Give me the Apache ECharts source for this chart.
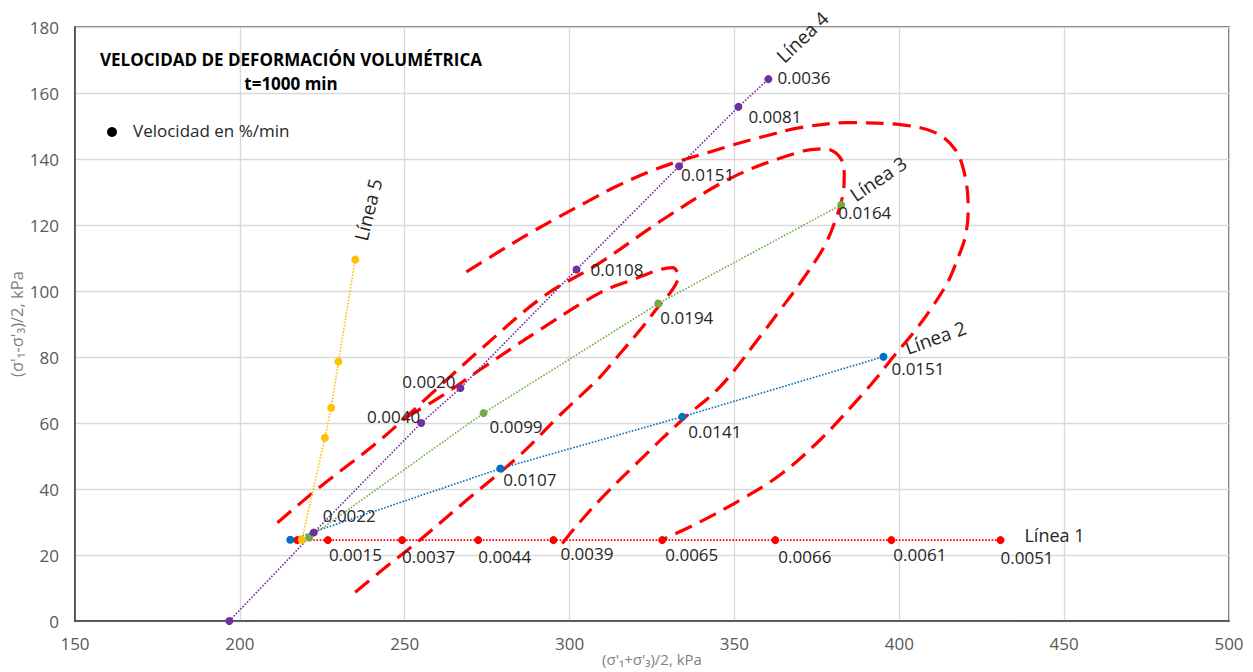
<!DOCTYPE html>
<html><head><meta charset="utf-8">
<script src="https://cdn.jsdelivr.net/npm/echarts@6/dist/echarts.min.js"></script>
<style>html,body{margin:0;padding:0;background:#fff;overflow:hidden}#c{width:1253px;height:672px}</style>
</head><body><div id="c"></div>
<script>
// ---- data ----
const l1X = [217.4, 226.7, 249.2, 272.3, 295.1, 328.1, 362.4, 397.6, 430.7];
const l1Y = [24.5, 24.5, 24.5, 24.5, 24.5, 24.5, 24.5, 24.5, 24.5];
const l1Lbl = ['', '0.0015', '0.0037', '0.0044', '0.0039', '0.0065', '0.0066', '0.0061', '0.0051'];

const l2X = [215.3, 279.0, 334.2, 395.2];
const l2Y = [24.6, 46.2, 61.9, 80.1];
const l2Lbl = ['', '0.0107', '0.0141', '0.0151'];

const l3X = [221.0, 273.9, 326.9, 382.4];
const l3Y = [25.3, 63.0, 96.2, 126.1];
const l3Lbl = ['', '0.0099', '0.0194', '0.0164'];

const l4X = [196.8, 222.4, 255.0, 266.9, 302.1, 333.2, 351.2, 360.3];
const l4Y = [0, 26.8, 60.0, 70.6, 106.5, 137.8, 155.8, 164.2];
const l4Lbl = ['', '0.0022', '0.0040', '0.0020', '0.0108', '0.0151', '0.0081', '0.0036'];

const l5X = [218.8, 225.8, 227.7, 229.9, 235.0];
const l5Y = [24.6, 55.5, 64.6, 78.6, 109.5];

const lineNames = ['Línea 1', 'Línea 2', 'Línea 3', 'Línea 4', 'Línea 5'];

// dashed red curves
const c1X = [250.2, 260.8, 272.9, 291.1, 309.3, 319.9, 327.5, 331.2, 333.0, 331.2, 326.9, 321.5, 314.5, 309.3, 297.2, 285.1, 269.0, 254.7, 244.1, 234.1];
const c1Y = [61.6, 67.9, 76.2, 88.3, 99.5, 103.7, 106.5, 107.1, 104.6, 100.4, 95.2, 88.3, 80.1, 74.0, 62.5, 50.4, 36.8, 24.6, 16.2, 8.0];
const c2X = [211.4, 224.4, 242.6, 257.8, 272.9, 292.0, 309.3, 329.6, 349.7, 370.0, 377.5, 382.1, 383.3, 383.0, 381.5, 377.5, 370.0, 363.9, 357.8, 345.7, 334.2, 321.5, 309.3, 301.7, 297.0];
const c2Y = [29.8, 40.7, 54.9, 68.6, 82.2, 98.3, 108.6, 122.5, 134.6, 142.2, 143.1, 140.4, 135.2, 129.8, 124.0, 114.0, 102.5, 94.3, 86.2, 71.0, 61.0, 48.9, 36.8, 28.3, 22.5];
const c3X = [268.7, 278.1, 287.2, 296.3, 305.4, 313.3, 323.6, 332.7, 341.8, 349.7, 358.8, 370.0, 384.3, 400.3, 410.9, 417.0, 420.0, 420.9, 420.0, 417.6, 414.6, 409.4, 404.3, 398.2, 393.4, 388.2, 376.1, 363.9, 351.8, 339.7, 328.1];
const c3Y = [105.8, 111.6, 117.1, 122.2, 127.1, 131.3, 135.9, 139.2, 141.9, 144.3, 146.8, 149.5, 151.0, 150.4, 148.0, 142.8, 134.6, 124.6, 116.4, 109.5, 102.5, 94.3, 87.4, 80.1, 74.0, 68.0, 55.0, 44.3, 36.7, 30.1, 24.6];

// ---- styles (label placement, not data) ----
const l1Pos = [null, ['right',-8,14], ['right',-9,16], ['right',-9,16], ['right',-2,13], ['right',-6,14], ['right',-6,16], ['right',-7,14], ['right',-9,17]];
const l2Pos = [null, ['right',-6,11], ['right',-3,15], ['right',-1,12]];
const l3Pos = [null, ['right',-3,13], ['right',-7,14], ['right',-12,8]];
const l4Pos = [null, ['right',0,-17], ['left',8,-7], ['left',4,-7], ['right',5,0], ['right',-7,8], ['right',1,10], ['right',0,-2]];
const l5Pos = [null, null, null, null, null];
const nameOffsets = [[54,-5,0], [52,-19,20], [37,-26,34], [34,-42,44], [13,-50,76]];

const FONT = 'Open Sans';
const colors = ['#FF0000', '#0070C0', '#70AD47', '#7030A0', '#FFC000'];

function mkLine(name, xs, ys, labels, color, pos) {
  return {
    type: 'line', name: name, z: 3, symbol: 'circle', symbolSize: 8,
    itemStyle: { color: color }, lineStyle: { color: color, width: 1.6, type: 'dotted' },
    label: { fontFamily: FONT, fontSize: 17, color: '#262626' },
    emphasis: { disabled: true },
    data: xs.map(function (x, i) {
      const p = pos[i];
      const lb = labels && labels[i] ? labels[i] : '';
      return {
        value: [x, ys[i]],
        label: lb ? { show: true, formatter: lb, position: p[0], offset: [p[1], p[2]] } : { show: false }
      };
    })
  };
}
function mkCurve(xs, ys) {
  return {
    type: 'line', z: 2, symbol: 'none', smooth: 0.35, silent: true,
    lineStyle: { color: '#FF0000', width: 3.2, type: [18, 9] },
    data: xs.map(function (x, i) { return [x, ys[i]]; })
  };
}

const chart = echarts.init(document.getElementById('c'), null, { renderer: 'svg' });
const lines = [
  mkLine(lineNames[0], l1X, l1Y, l1Lbl, colors[0], l1Pos),
  mkLine(lineNames[1], l2X, l2Y, l2Lbl, colors[1], l2Pos),
  mkLine(lineNames[2], l3X, l3Y, l3Lbl, colors[2], l3Pos),
  mkLine(lineNames[3], l4X, l4Y, l4Lbl, colors[3], l4Pos),
  mkLine(lineNames[4], l5X, l5Y, null, colors[4], l5Pos)
];
chart.setOption({
  animation: false,
  grid: { left: 75, right: 24, top: 27, bottom: 51, show: true, borderColor: '#404040', borderWidth: 1.5, outerBoundsMode: 'none', containLabel: false },
  xAxis: {
    type: 'value', min: 150, max: 500, interval: 50,
    axisLine: { show: true, lineStyle: { color: '#404040', width: 1.5 } },
    axisTick: { show: false },
    axisLabel: { fontFamily: FONT, fontSize: 17, color: '#595959', margin: 14 },
    splitLine: { show: true, lineStyle: { color: '#d9d9d9', width: 1.3 } },
    name: "(σ'₁+σ'₃)/2, kPa", nameLocation: 'middle', nameGap: 38, nameMoveOverlap: false,
    nameTextStyle: { fontFamily: FONT, fontSize: 15, color: '#7f7f7f', lineHeight: 16, verticalAlign: 'middle' }
  },
  yAxis: {
    type: 'value', min: 0, max: 180, interval: 20,
    axisLine: { show: true, lineStyle: { color: '#404040', width: 1.5 } },
    axisTick: { show: false },
    axisLabel: { fontFamily: FONT, fontSize: 17, color: '#595959', margin: 16 },
    splitLine: { show: true, lineStyle: { color: '#d9d9d9', width: 1.3 } },
    name: "(σ'₁-σ'₃)/2, kPa", nameLocation: 'middle', nameGap: 50, nameRotate: 90, nameMoveOverlap: false,
    nameTextStyle: { fontFamily: FONT, fontSize: 16.5, color: '#7f7f7f' }
  },
  series: [mkCurve(c1X, c1Y), mkCurve(c2X, c2Y), mkCurve(c3X, c3Y)].concat(lines)
});

// annotations anchored to each line's last point
const lastPts = [[l1X, l1Y], [l2X, l2Y], [l3X, l3Y], [l4X, l4Y], [l5X, l5Y]];
const g = [
  { type: 'text', x: 291, y: 59, style: { text: 'VELOCIDAD DE DEFORMACIÓN VOLUMÉTRICA', font: 'bold 17px "Open Sans"', fill: '#000', align: 'center', verticalAlign: 'middle' } },
  { type: 'text', x: 291, y: 83, style: { text: 't=1000 min', font: 'bold 17px "Open Sans"', fill: '#000', align: 'center', verticalAlign: 'middle' } },
  { type: 'circle', shape: { cx: 112, cy: 132, r: 5 }, style: { fill: '#000' } },
  { type: 'text', x: 133, y: 130, style: { text: 'Velocidad en %/min', font: '17px "Open Sans"', fill: '#262626', align: 'left', verticalAlign: 'middle' } }
];
lastPts.forEach(function (a, i) {
  const n = a[0].length - 1;
  const p = chart.convertToPixel({ gridIndex: 0 }, [a[0][n], a[1][n]]);
  const o = nameOffsets[i];
  g.push({ type: 'text', x: p[0] + o[0], y: p[1] + o[1], rotation: o[2] * Math.PI / 180,
    style: { text: lineNames[i], font: (i === 0 ? '18px' : '19px') + ' "Open Sans"', fill: '#262626', align: 'center', verticalAlign: 'middle' } });
});
chart.setOption({ graphic: g });
</script></body></html>
